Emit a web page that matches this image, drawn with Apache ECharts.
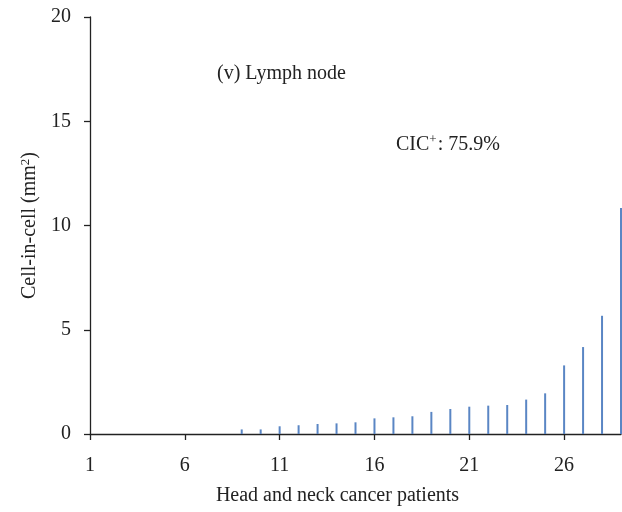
<!DOCTYPE html>
<html>
<head>
<meta charset="utf-8">
<script src="https://cdn.jsdelivr.net/npm/echarts@6/dist/echarts.min.js"></script>
<style>
  html, body { margin: 0; padding: 0; background: #fff; }
  #chart { width: 622px; height: 512px; }
</style>
</head>
<body>
<div id="chart"></div>
<script>
// patients 1..29
const patients = ['1','2','3','4','5','6','7','8','9','10','11','12','13','14','15',
  '16','17','18','19','20','21','22','23','24','25','26','27','28','29']
// cell-in-cell per mm2
const cicValues = [0, 0, 0, 0, 0, 0, 0, 0, 0.22, 0.22, 0.37, 0.42, 0.48, 0.51, 0.56,
  0.75, 0.8, 0.85, 1.06, 1.2, 1.31, 1.36, 1.39, 1.65, 1.95, 3.29, 4.17, 5.67, 10.84]
const yTicks = [0, 5, 10, 15, 20]

const serif = '"Liberation Serif", "DejaVu Serif", serif'
const ink = '#222'
const chart = echarts.init(document.getElementById('chart'))

chart.setOption({
  animation: false,
  grid: { left: 90, right: 1, top: 17, bottom: 78 },
  xAxis: {
    type: 'category',
    data: patients,
    boundaryGap: false,
    name: 'Head and neck cancer patients',
    nameLocation: 'middle',
    nameGap: 52,
    // the title sits a little left of the axis centre in the original
    nameTextStyle: { fontFamily: serif, fontSize: 20, color: ink, padding: [0, 36, 0, 0] },
    axisLine: { lineStyle: { color: ink, width: 1.3 } },
    axisTick: { interval: 4, length: 6, lineStyle: { color: ink, width: 1.3 } },
    axisLabel: { interval: 4, margin: 22, fontFamily: serif, fontSize: 20, color: ink }
  },
  yAxis: {
    type: 'value',
    min: yTicks[0],
    max: yTicks[yTicks.length - 1],
    interval: 5,
    name: '{n|Cell-in-cell (mm}{s|2}{n|)}',
    nameLocation: 'middle',
    nameGap: 48,
    nameTextStyle: {
      rich: {
        n: { fontFamily: serif, fontSize: 20, color: ink },
        s: { fontFamily: serif, fontSize: 13, color: ink, verticalAlign: 'bottom', padding: [0, 0, 10, 0] }
      }
    },
    axisLine: { show: true, lineStyle: { color: ink, width: 1.3 } },
    axisTick: { show: true, length: 6, lineStyle: { color: ink, width: 1.3 } },
    axisLabel: { margin: 19, fontFamily: serif, fontSize: 20, color: ink },
    splitLine: { show: false }
  },
  series: [{
    type: 'bar',
    data: cicValues,
    barWidth: 2,
    itemStyle: { color: '#5a86c4' }
  }],
  graphic: [
    {
      type: 'text', left: 217, top: 64,
      style: { text: '(v) Lymph node', font: '20px ' + serif, fill: ink }
    },
    {
      type: 'text', left: 396, top: 133,
      style: {
        text: '{n|CIC}{s|+}{n|: 75.9%}',
        rich: {
          n: { fontFamily: serif, fontSize: 20, fill: ink },
          s: { fontFamily: serif, fontSize: 13, fill: ink, verticalAlign: 'top', padding: [0, 1, 10, 0] }
        }
      }
    }
  ]
})
</script>
</body>
</html>
